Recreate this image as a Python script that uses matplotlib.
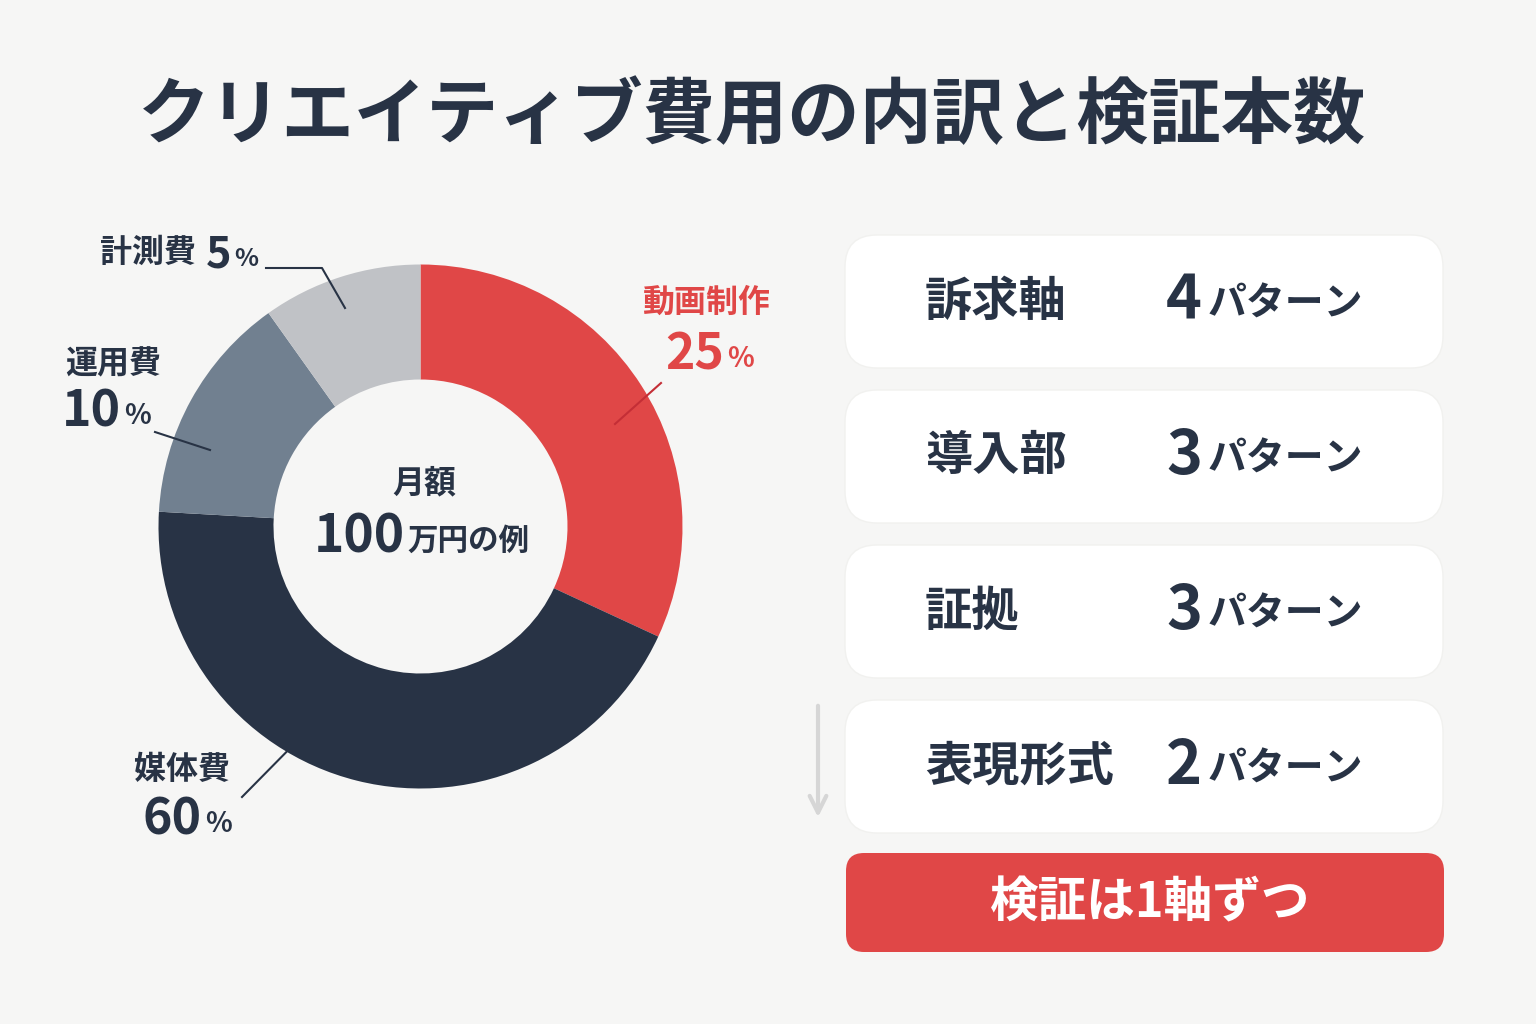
import matplotlib
matplotlib.use("Agg")
import matplotlib.pyplot as plt
from matplotlib.patches import FancyBboxPatch

plt.rcParams['font.family'] = ['Noto Sans CJK JP', 'DejaVu Sans']

# data
title = "クリエイティブ費用の内訳と検証本数"
categories = ["動画制作", "媒体費", "運用費", "計測費"]
label_pcts = [25, 60, 10, 5]
# shares as drawn in the picture (degrees of arc / 360)
slice_shares = [31.9, 44.0, 14.25, 9.85]
slice_colors = ["#E04747", "#283345", "#718090", "#C0C2C6"]
center_top = "月額"
center_num = "100"
center_unit = "万円の例"
axes_names = ["訴求軸", "導入部", "証拠", "表現形式"]
axes_counts = [4, 3, 3, 2]
footer = "検証は1軸ずつ"

DARK = "#283345"
RED = "#E04747"
BG = "#F6F6F5"

fig = plt.figure(figsize=(15.36, 10.24), dpi=100, facecolor=BG)

# donut
cx, cy, r_out, r_in = 420.5, 526.5, 262, 147
pax = fig.add_axes([(cx - r_out) / 1536, (1024 - cy - r_out) / 1024,
                    2 * r_out / 1536, 2 * r_out / 1024])
pax.pie(slice_shares, colors=slice_colors, startangle=90, counterclock=False,
        radius=1, wedgeprops=dict(width=(r_out - r_in) / r_out, edgecolor='none'))
pax.set_aspect('equal')
pax.set_xlim(-1, 1)
pax.set_ylim(-1, 1)
pax.axis('off')

# overlay axes in pixel coords
ax = fig.add_axes([0, 0, 1, 1], facecolor='none')
ax.set_xlim(0, 1536)
ax.set_ylim(1024, 0)
ax.axis('off')

ax.text(752, 117, title, ha='center', va='center', fontsize=52,
        fontweight='bold', color=DARK)

# centre text
ax.text(424, 483, center_top, ha='center', va='center', fontsize=23,
        fontweight='bold', color=DARK)
ax.text(405, 537, center_num, ha='right', va='center', fontsize=37,
        fontweight='bold', color=DARK)
ax.text(407, 541, center_unit, ha='left', va='center', fontsize=22,
        fontweight='bold', color=DARK)

# slice labels
def pct_label(x, y, val, color, size=36, psize=20):
    ax.text(x, y, str(val), ha='right', va='center', fontsize=size,
            fontweight='bold', color=color)
    ax.text(x + 3, y + 4, "%", ha='left', va='center', fontsize=psize,
            fontweight='bold', color=color)

# 計測費
ax.text(100, 253, categories[3], ha='left', va='center', fontsize=23,
        fontweight='bold', color=DARK)
pct_label(231, 255, label_pcts[3], DARK, size=31, psize=18)
ax.plot([266, 322, 345], [268, 268, 308], color=DARK, lw=1.5)

# 運用費
ax.text(65, 364, categories[2], ha='left', va='center', fontsize=23,
        fontweight='bold', color=DARK)
pct_label(121, 412, label_pcts[2], DARK)
ax.plot([155, 210], [432, 450], color=DARK, lw=1.5)

# 動画制作
ax.text(706, 303, categories[0], ha='center', va='center', fontsize=23,
        fontweight='bold', color=RED)
pct_label(724, 355, label_pcts[0], RED)
ax.plot([661, 615], [383, 424], color="#C42E36", lw=1.5)

# 媒体費
ax.text(182, 770, categories[1], ha='center', va='center', fontsize=23,
        fontweight='bold', color=DARK)
pct_label(202, 820, label_pcts[1], DARK)
ax.plot([242, 310], [797, 728], color=DARK, lw=1.5)

# right-hand boxes
box_x, box_w, box_h = 845, 598, 133
tops = [235, 390, 545, 700]
for top, name, cnt in zip(tops, axes_names, axes_counts):
    ax.add_patch(FancyBboxPatch((box_x, top), box_w, box_h,
                                boxstyle="round,pad=0,rounding_size=32",
                                facecolor='white', edgecolor='#F1F1EF', lw=1))
    ym = top + box_h / 2
    ax.text(925, ym, name, ha='left', va='center', fontsize=34,
            fontweight='bold', color=DARK)
    ax.text(1202, ym, str(cnt), ha='right', va='center', fontsize=44,
            fontweight='bold', color=DARK)
    ax.text(1208, ym + 3, "パターン", ha='left', va='center', fontsize=28,
            fontweight='bold', color=DARK)

# arrow
ax.annotate("", xy=(818, 820), xytext=(818, 703),
            arrowprops=dict(arrowstyle='->', color='#D6D6D6', lw=3,
                            mutation_scale=30))

# footer box
ax.add_patch(FancyBboxPatch((846, 853), 598, 99,
                            boxstyle="round,pad=0,rounding_size=18",
                            facecolor=RED, edgecolor='none'))
ax.text(1150, 903, footer, ha='center', va='center', fontsize=35,
        fontweight='bold', color='white')

fig.savefig("out.png", dpi=100, facecolor=BG)
